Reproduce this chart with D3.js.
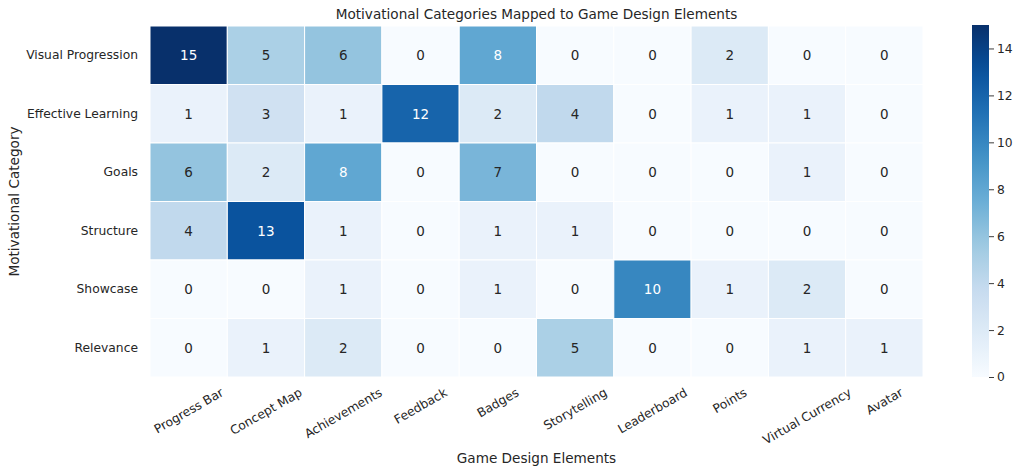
<!DOCTYPE html>
<html>
<head>
<meta charset="utf-8">
<script src="https://cdn.jsdelivr.net/npm/d3@7"></script>
<style>
  body { margin: 0; background: #fff; }
  svg, svg text { font-family: "DejaVu Sans", sans-serif; }
</style>
</head>
<body>
<svg id="chart"></svg>
<script>
// categories and values
const rows = ["Visual Progression", "Effective Learning", "Goals", "Structure", "Showcase", "Relevance"];
const cols = ["Progress Bar", "Concept Map", "Achievements", "Feedback", "Badges",
              "Storytelling", "Leaderboard", "Points", "Virtual Currency", "Avatar"];
const counts = [
    [15, 5, 6, 0, 8, 0, 0, 2, 0, 0],
    [1, 3, 1, 12, 2, 4, 0, 1, 1, 0],
    [6, 2, 8, 0, 7, 0, 0, 0, 1, 0],
    [4, 13, 1, 0, 1, 1, 0, 0, 0, 0],
    [0, 0, 1, 0, 1, 0, 10, 1, 2, 0],
    [0, 1, 2, 0, 0, 5, 0, 0, 1, 1]
];
const colorTicks = [0, 2, 4, 6, 8, 10, 12, 14];

// matplotlib "Blues" stops
const blues = ["#f7fbff", "#deebf7", "#c6dbef", "#9ecae1", "#6baed6",
               "#4292c6", "#2171b5", "#08519c", "#08306b"];

const width = 1024, height = 475;
const margin = { top: 26, right: 101, bottom: 98, left: 150 };
const textColor = "#262626";
const tickSize = "12.3px";

const svg = d3.select("#chart")
    .attr("width", width)
    .attr("height", height);

const innerW = width - margin.left - margin.right;
const innerH = height - margin.top - margin.bottom;

const g = svg.append("g")
    .attr("transform", `translate(${margin.left},${margin.top})`);

const x = d3.scaleBand().domain(cols).range([0, innerW]);
const y = d3.scaleBand().domain(rows).range([0, innerH]);

const vmax = 15;
const color = d3.scaleLinear()
    .domain(blues.map((_, i) => i * vmax / (blues.length - 1)))
    .range(blues)
    .interpolate(d3.interpolateRgb)
    .clamp(true);

const cells = [];
rows.forEach((r, i) => cols.forEach((c, j) => cells.push({ row: r, col: c, value: counts[i][j] })));

g.selectAll("rect.cell")
    .data(cells)
    .join("rect")
    .attr("class", "cell")
    .attr("x", d => x(d.col))
    .attr("y", d => y(d.row))
    .attr("width", x.bandwidth())
    .attr("height", y.bandwidth())
    .attr("fill", d => color(d.value))
    .attr("stroke", "#fff")
    .attr("stroke-width", 1);

// annotation text: white on dark cells like seaborn does
function lum(c) {
    const rgb = d3.rgb(c);
    const f = v => { v /= 255; return v <= 0.03928 ? v / 12.92 : Math.pow((v + 0.055) / 1.055, 2.4); };
    return 0.2126 * f(rgb.r) + 0.7152 * f(rgb.g) + 0.0722 * f(rgb.b);
}

g.selectAll("text.annot")
    .data(cells)
    .join("text")
    .attr("class", "annot")
    .attr("x", d => x(d.col) + x.bandwidth() / 2)
    .attr("y", d => y(d.row) + y.bandwidth() / 2)
    .attr("dy", "0.37em")
    .attr("text-anchor", "middle")
    .style("font-size", "13.5px")
    .attr("fill", d => lum(color(d.value)) > 0.408 ? textColor : "#fff")
    .text(d => d.value);

// axes
const yAxis = g.append("g")
    .call(d3.axisLeft(y).tickSize(0).tickPadding(12));
yAxis.select(".domain").remove();
yAxis.selectAll("text").style("font-size", tickSize).attr("fill", textColor);

const xAxis = g.append("g")
    .attr("transform", `translate(0,${innerH})`)
    .call(d3.axisBottom(x).tickSize(0).tickPadding(0));
xAxis.select(".domain").remove();
// rotated labels centred on the tick, top of the rotated box just under the cells
const topGap = 8;
xAxis.selectAll("text")
    .style("font-size", tickSize)
    .attr("fill", textColor)
    .attr("text-anchor", "middle")
    .attr("dy", "0.35em")
    .attr("y", 0)
    .each(function () {
        const w = this.getComputedTextLength();
        const h = 12.3 * 1.17;
        const cy = topGap + w / 2 * Math.sin(Math.PI / 6) + h / 2 * Math.cos(Math.PI / 6);
        d3.select(this).attr("transform", `translate(0,${cy}) rotate(-30)`);
    });

svg.append("text")
    .attr("x", margin.left + innerW / 2)
    .attr("y", 18.5)
    .attr("text-anchor", "middle")
    .style("font-size", "13.6px")
    .attr("fill", textColor)
    .text("Motivational Categories Mapped to Game Design Elements");

svg.append("text")
    .attr("x", margin.left + innerW / 2)
    .attr("y", 463)
    .attr("text-anchor", "middle")
    .style("font-size", "13.6px")
    .attr("fill", textColor)
    .text("Game Design Elements");

svg.append("text")
    .attr("transform", `translate(18.5,${margin.top + innerH / 2}) rotate(-90)`)
    .attr("text-anchor", "middle")
    .style("font-size", "13.6px")
    .attr("fill", textColor)
    .text("Motivational Category");

// colorbar
const cbX = 972, cbW = 17;
const cb = d3.scaleLinear().domain([0, vmax]).range([margin.top + innerH, margin.top - 1]);

const defs = svg.append("defs");
const grad = defs.append("linearGradient")
    .attr("id", "cbgrad")
    .attr("x1", 0).attr("y1", 1).attr("x2", 0).attr("y2", 0);
d3.range(0, 1.0001, 0.05).forEach(t => {
    grad.append("stop").attr("offset", t).attr("stop-color", color(t * vmax));
});

svg.append("rect")
    .attr("x", cbX)
    .attr("y", cb(vmax))
    .attr("width", cbW)
    .attr("height", cb(0) - cb(vmax))
    .attr("fill", "url(#cbgrad)");

const cbAxis = svg.append("g")
    .attr("transform", `translate(${cbX + cbW},0)`)
    .call(d3.axisRight(cb).tickValues(colorTicks).tickSize(5).tickPadding(3));
cbAxis.select(".domain").remove();
cbAxis.selectAll("line").attr("stroke", textColor).attr("stroke-width", 0.9);
cbAxis.selectAll("text").style("font-size", tickSize).attr("fill", textColor);
</script>
</body>
</html>
